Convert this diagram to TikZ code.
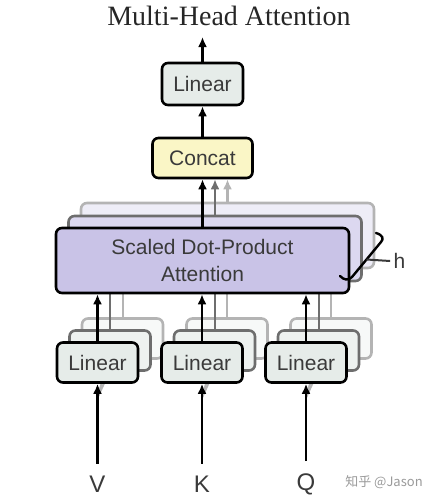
\documentclass[tikz,border=0pt]{standalone}
\usepackage{fontspec}
\setmainfont{Liberation Serif}
\setsansfont{Liberation Sans}
\newfontfamily\cjkfont{Noto Sans CJK SC}
\usetikzlibrary{arrows.meta, positioning, calc}
\definecolor{linfill}{HTML}{E6ECE9}
\definecolor{linmid}{HTML}{EEF2F0}
\definecolor{linfar}{HTML}{F7F9F8}
\definecolor{catfill}{HTML}{FAF6C6}
\definecolor{attfill}{HTML}{C9C3E7}
\definecolor{attmid}{HTML}{DCD8F0}
\definecolor{attfar}{HTML}{EEEDF7}
\definecolor{midline}{HTML}{6E6E6E}
\definecolor{farline}{HTML}{B4B4B4}
\definecolor{txtgray}{HTML}{3A3A3A}
\definecolor{markgray}{HTML}{9A9A9A}

\begin{document}
\begin{tikzpicture}[
        x=1pt, y=-1pt,
        box/.style={rectangle, rounded corners=6pt, line width=2.6pt, draw=black, inner sep=0pt, align=center, text=txtgray, font=\sffamily\fontsize{21}{27}\selectfont},
        linear/.style={box, fill=linfill, minimum width=81pt, minimum height=40pt},
        linearmid/.style={linear, draw=midline, fill=linmid},
        linearfar/.style={linear, draw=farline, fill=linfar},
        concat/.style={box, fill=catfill, minimum width=100pt, minimum height=40pt},
        attn/.style={box, fill=attfill, minimum width=293pt, minimum height=65pt},
        attnmid/.style={attn, draw=midline, fill=attmid},
        attnfar/.style={attn, draw=farline, fill=attfar},
        inlab/.style={inner xsep=2pt, inner ysep=12pt, text=txtgray, font=\sffamily\fontsize{24}{26}\selectfont},
        arrow/.style={-{Latex[length=10pt, width=9pt]}, line width=2.6pt, draw=black},
        garrow/.style={arrow, draw=midline},
        larrow/.style={arrow, draw=farline},
        gline/.style={line width=2pt, draw=farline}
    ]
        \useasboundingbox (0,0) rectangle (436,501);

        \node[font=\fontsize{28}{30}\selectfont, text=black!85] (title) at (229,16) {Multi-Head Attention};
        \coordinate (out) at (202.5,37);
        \node[linear, minimum height=42pt] (outlin) at (202.5,84) {Linear};
        \node[concat] (concat) at (202.5,158) {Concat};
        \draw[arrow] (outlin) -- (out);
        \draw[arrow] (concat) -- (outlin);

        % h stacked heads
        \coordinate (cA) at (202.5,260.5);
        \node[attnfar] (attn3) at ($(cA)+(25,-25)$) {};
        \draw[larrow] (attn3.north) -- (attn3.north |- concat.south);
        \node[attnmid] (attn2) at ($(cA)+(12.5,-12)$) {};
        \draw[garrow] (attn2.north) -- (attn2.north |- concat.south);

        \node[inlab] (vin) at (97.5,484) {V};
        \node[inlab] (kin) at (202,484) {K};
        \node[inlab] (qin) at (306,484) {Q};
        \coordinate (cV) at (97.5,362.5);
        \coordinate (cK) at (202,362.5);
        \coordinate (cQ) at (306,362.5);

        \draw[gline] ($(cV)+(0,35)$) -- ($(cV)+(25,-19.5)$);
        \node[linearfar] (linV3) at ($(cV)+(25,-24)$) {};
        \draw[gline] (linV3.north) -- (linV3.north |- attn3.south);
        \draw[gline] ($(cV)+(0,35)$) -- ($(cV)+(12.5,-7.5)$);
        \node[linearmid] (linV2) at ($(cV)+(12.5,-12)$) {};
        \draw[gline, draw=midline] (linV2.north) -- (linV2.north |- attn2.south);

        \draw[gline] ($(cK)+(0,35)$) -- ($(cK)+(25,-19.5)$);
        \node[linearfar] (linK3) at ($(cK)+(25,-24)$) {};
        \draw[gline] (linK3.north) -- (linK3.north |- attn3.south);
        \draw[gline] ($(cK)+(0,35)$) -- ($(cK)+(12.5,-7.5)$);
        \node[linearmid] (linK2) at ($(cK)+(12.5,-12)$) {};
        \draw[gline, draw=midline] (linK2.north) -- (linK2.north |- attn2.south);

        \draw[gline] ($(cQ)+(0,35)$) -- ($(cQ)+(25,-19.5)$);
        \node[linearfar] (linQ3) at ($(cQ)+(25,-24)$) {};
        \draw[gline] (linQ3.north) -- (linQ3.north |- attn3.south);
        \draw[gline] ($(cQ)+(0,35)$) -- ($(cQ)+(12.5,-7.5)$);
        \node[linearmid] (linQ2) at ($(cQ)+(12.5,-12)$) {};
        \draw[gline, draw=midline] (linQ2.north) -- (linQ2.north |- attn2.south);

        \node[attn] (attn) at (cA) {Scaled Dot-Product\\Attention};
        \draw[arrow] (attn) -- (concat);

        \node[linear] (linV) at (cV) {Linear};
        \node[linear] (linK) at (cK) {Linear};
        \node[linear] (linQ) at (cQ) {Linear};
        \draw[arrow] (linV.north) -- (linV.north |- attn.south);
        \draw[arrow] (linK.north) -- (linK.north |- attn.south);
        \draw[arrow] (linQ.north) -- (linQ.north |- attn.south);
        \draw[arrow] (vin) -- (linV);
        \draw[arrow] (kin) -- (linK);
        \draw[arrow] (qin) -- (linQ);

        % h bracket
        \coordinate (hb1) at (381,242);
        \coordinate (hb2) at (352,277);
        \draw[line width=2.4pt, line cap=round] (376,233) .. controls (383,235) and (384,239) .. (hb1) -- (hb2) .. controls (348,281) and (344,280) .. (340,276);
        \coordinate (htip) at ($(hb1)!0.5!(hb2)$);
        \node[text=txtgray, font=\sffamily\fontsize{21}{24}\selectfont] (hlab) at (399.5,261) {h};
        \draw[line width=2pt, draw=txtgray] (htip) -- (hlab.west);

        \node[text=markgray, font=\cjkfont\fontsize{13}{15}\selectfont] (mark) at (384,482) {知乎 @Jason};
    \end{tikzpicture}
\end{document}
